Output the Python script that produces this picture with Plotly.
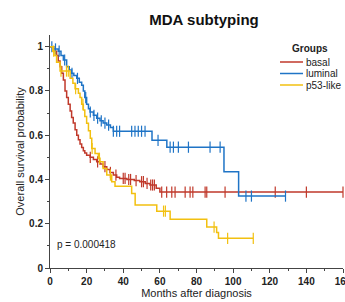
import numpy as np
import plotly.graph_objects as go

# ---- data ----
groups = ["basal", "luminal", "p53-like"]
colors = ["#c0392b", "#1f74c6", "#f2c010"]

basal_t = [0, 2, 3.6, 4.5, 5.5, 6.4, 7.3, 8.2, 9.1, 10, 11, 11.8, 12.7, 13.7, 14.6, 15.5,
           16.4, 17.3, 18.2, 19, 20, 21.9, 23.7, 25.5, 27.3, 29, 31, 32.8, 34.6, 36.4, 38,
           42, 46, 49, 52, 54.6, 58, 60]
basal_s = [1, 0.98, 0.96, 0.935, 0.91, 0.88, 0.85, 0.8, 0.77, 0.74, 0.71, 0.68, 0.655, 0.625,
           0.6, 0.58, 0.56, 0.545, 0.53, 0.52, 0.51, 0.5, 0.49, 0.48, 0.47, 0.458, 0.445, 0.432,
           0.42, 0.41, 0.405, 0.4, 0.395, 0.39, 0.382, 0.375, 0.36, 0.343]
basal_cens = [22, 26, 30, 33, 36, 40, 41, 43, 44, 47, 50, 51, 53, 55, 56, 57, 61, 63.7, 66.5,
              68.3, 73.8, 76.5, 78, 84.7, 85.6, 95.6, 123, 140, 160]

lum_t = [0, 2, 4.5, 6, 7.3, 9.1, 10.5, 11.8, 13, 14.6, 16, 17.3, 18.2, 19, 20, 21, 21.9, 23.7,
         25.5, 27.3, 29, 31, 33, 34.6, 55.7, 63.8, 95, 103]
lum_s = [1, 0.99, 0.98, 0.96, 0.94, 0.91, 0.895, 0.88, 0.87, 0.857, 0.84, 0.826, 0.8, 0.77,
         0.74, 0.72, 0.705, 0.69, 0.677, 0.665, 0.655, 0.646, 0.635, 0.618, 0.577, 0.546,
         0.435, 0.325]
lum_cens = [1, 3, 5, 8, 12, 15, 19.5, 22, 24, 26, 28, 30, 32, 34.6, 36.4, 38, 44.6, 46.4,
            48.2, 50, 51.9, 59, 65.6, 67.4, 70.1, 75.6, 87.4, 92.9, 107, 110, 128.6]

p53_t = [0, 1.5, 2.7, 3.6, 5.5, 11, 12.5, 13.7, 15.5, 16.4, 17.3, 18.2, 19, 20, 21, 22, 22.8,
         24.6, 26.4, 27.3, 29, 31, 33.7, 35.5, 44.6, 46.5, 58.3, 65.6, 85.6, 91, 92]
p53_s = [1, 0.98, 0.96, 0.93, 0.89, 0.857, 0.835, 0.81, 0.79, 0.77, 0.74, 0.714, 0.685, 0.654,
         0.62, 0.586, 0.54, 0.518, 0.496, 0.48, 0.45, 0.42, 0.39, 0.37, 0.337, 0.285, 0.257,
         0.22, 0.185, 0.16, 0.134]
p53_cens = [2, 6, 9, 10, 14, 18, 23, 27, 33, 62, 63, 89.6, 97, 111]

x_ticks = [0, 20, 40, 60, 80, 100, 120, 140, 160]
y_ticks = [0, 0.2, 0.4, 0.6, 0.8, 1]
y_ticktext = ["0", "0.2", "0.4", "0.6", "0.8", "1"]
p_value_text = "p = 0.000418"

series = [(basal_t, basal_s, basal_cens), (lum_t, lum_s, lum_cens), (p53_t, p53_s, p53_cens)]

FONT = "Liberation Sans, Arial, sans-serif"
W, H = 345, 302
L, R, T, B = 50, 2, 35, 34
PW, PH = W - L - R, H - T - B


def px_x(px):
    return (px - L) / PW


def px_y(py):
    return (H - B - py) / PH


fig = go.Figure()

for name, col, (t, s, cens) in zip(groups, colors, series):
    t = np.asarray(t, float)
    s = np.asarray(s, float)
    cens = np.asarray(cens, float)
    end = max(t.max(), cens.max())
    xs = np.append(t, end)
    ys = np.append(s, s[-1])
    fig.add_trace(go.Scatter(x=xs, y=ys, mode="lines", line=dict(color=col, width=1.5, shape="hv"),
                             name=name, showlegend=False, hoverinfo="skip", cliponaxis=False))
    idx = np.searchsorted(t, cens, side="right") - 1
    cy = s[idx]
    fig.add_trace(go.Scatter(x=cens, y=cy, mode="markers", cliponaxis=False,
                             marker=dict(symbol="line-ns", size=8, line=dict(color=col, width=1.2)),
                             showlegend=False, hoverinfo="skip"))

# compact legend like the reference
fig.add_annotation(xref="paper", yref="paper", x=px_x(310), y=px_y(48),
                   text="<b>Groups</b>", showarrow=False, font=dict(family=FONT, size=10, color="#222"),
                   xanchor="center", yanchor="middle")
for i, (name, col) in enumerate(zip(groups, colors)):
    yp = px_y(62 + i * 11.5)
    fig.add_shape(type="line", xref="paper", yref="paper", x0=px_x(280), x1=px_x(303),
                  y0=yp, y1=yp, line=dict(color=col, width=1.5))
    fig.add_annotation(xref="paper", yref="paper", x=px_x(304), y=yp, text=name, showarrow=False,
                       font=dict(family=FONT, size=10, color="#222"), xanchor="left", yanchor="middle")

fig.add_annotation(xref="x", yref="y", x=3, y=0.104, text=p_value_text, showarrow=False,
                   font=dict(family=FONT, size=10, color="#222"), xanchor="left", yanchor="middle")

axis_common = dict(showline=True, linecolor="#444", linewidth=1, ticks="outside", ticklen=4,
                   tickcolor="#444", showgrid=False, zeroline=False, automargin=False,
                   ticklabeloverflow="allow",
                   tickfont=dict(family=FONT, size=10, color="#222", weight="bold"))

fig.update_layout(
    width=W, height=H,
    margin=dict(l=L, r=R, t=T, b=B, autoexpand=False),
    paper_bgcolor="white", plot_bgcolor="white",
    title=dict(text="<b>MDA subtyping</b>", x=204 / W, xref="container", xanchor="center",
               y=1 - 20 / H, yref="container", yanchor="middle", automargin=False,
               font=dict(family=FONT, size=15, color="#111")),
    xaxis=dict(range=[0, 160], tickvals=x_ticks, **axis_common,
               minor=dict(ticks="outside", dtick=10, ticklen=2, tickcolor="#444"),
               title=dict(text="Months after diagnosis", font=dict(family=FONT, size=11, color="#222"),
                          standoff=0)),
    yaxis=dict(range=[0, 1.053], tickvals=y_ticks, ticktext=y_ticktext, **axis_common,
               minor=dict(ticks="outside", dtick=0.1, ticklen=2, tickcolor="#444"),
               title=dict(text="Overall survival probability", font=dict(family=FONT, size=11, color="#222"),
                          standoff=2)),
)

fig.write_html("out.html", config={"displayModeBar": False},
               post_script="document.body.style.margin='0px';document.body.style.padding='0px';"
                           "document.body.style.overflow='hidden';")
